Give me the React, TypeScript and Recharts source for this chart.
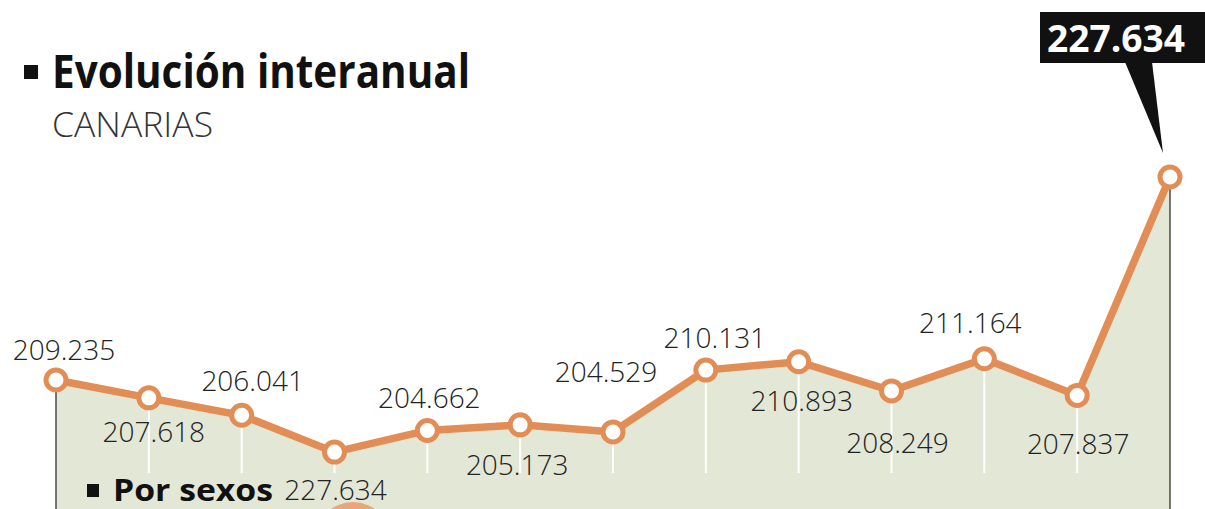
import React from 'react';
import { ComposedChart, Area, Line, XAxis, YAxis, ReferenceLine, LabelList } from 'recharts';

// ---- data ----
const periods = [0, 1, 2, 3, 4, 5, 6, 7, 8, 9, 10, 11, 12];
const values = [209235, 207618, 206041, 202700, 204662, 205173, 204529, 210131, 210893, 208249, 211164, 207837, 227634];
const valueLabels = ['209.235', '207.618', '206.041', '227.634', '204.662', '205.173', '204.529', '210.131', '210.893', '208.249', '211.164', '207.837', '227.634'];
const highlightLabel = '227.634';

// ---- layout / style config ----
const Y_DOMAIN: [number, number] = [197544, 243677];
const GRID_FLOOR = 200800;
const LABEL_OFFSETS: [number, number][] = [
  [8, -20], [5, 44], [11, -24], [1, 48], [2, -22], [-3, 50], [-7, -50],
  [9, -22], [3, 49], [6, 62], [-14, -26], [1, 59], [0, 0],
];
const ORANGE = '#e28d55';
const AREA_FILL = '#e3e7d6';
const TEXT = '#222';
const NUM_FONT = '"Open Sans", sans-serif';

const data = periods.map((p, i) => ({ p, v: values[i], label: valueLabels[i] }));

const renderLabel = (props: any) => {
  const { x, y, index, value } = props;
  if (index === periods.length - 1) {
    // callout box attached to the last point
    const bx = x - 130;
    const by = y - 165;
    return (
      <g>
        <rect x={bx} y={by} width={175} height={51} fill="#111" />
        <polygon points={`${x - 45},${by + 50} ${x - 18},${by + 50} ${x - 7},${y - 24}`} fill="#111" />
        <text x={x - 123} y={y - 125} fill="#fff" fontFamily={NUM_FONT} fontWeight={700} fontSize={38}
          textLength={138} lengthAdjust="spacingAndGlyphs">{highlightLabel}</text>
      </g>
    );
  }
  const [dx, dy] = LABEL_OFFSETS[index] || [0, 0];
  return (
    <text x={x + dx} y={y + dy} textAnchor="middle" fill={TEXT} fontFamily={NUM_FONT} fontWeight={300} fontSize={28}>
      {value}
    </text>
  );
};

export default function App() {
  return (
    <div style={{ position: 'absolute', left: 0, top: 0, width: 1205, height: 509, background: '#fff', overflow: 'hidden' }}>
      <ComposedChart width={1205} height={509} data={data} margin={{ top: 0, right: 35, bottom: 0, left: 56 }}>
        <XAxis dataKey="p" type="number" domain={[0, 12]} hide />
        <YAxis domain={Y_DOMAIN} hide />
        <Area dataKey="v" type="linear" fill={AREA_FILL} fillOpacity={1} stroke="none" isAnimationActive={false} />
        {data.map((d, i) => {
          const edge = i === 0 || i === data.length - 1;
          return (
            <ReferenceLine
              key={i}
              segment={[{ x: d.p, y: d.v }, { x: d.p, y: edge ? Y_DOMAIN[0] : GRID_FLOOR }]}
              stroke={edge ? '#4a4a4a' : '#ffffff'}
              strokeWidth={edge ? 1.5 : 2}
              ifOverflow="visible"
            />
          );
        })}
        <Line
          dataKey="v"
          type="linear"
          stroke={ORANGE}
          strokeWidth={7.5}
          dot={{ r: 10, fill: '#fff', stroke: ORANGE, strokeWidth: 5, clipDot: false }}
          activeDot={false}
          isAnimationActive={false}
        >
          <LabelList dataKey="label" content={renderLabel} />
        </Line>
      </ComposedChart>
      <svg width={1205} height={509} style={{ position: 'absolute', left: 0, top: 0, pointerEvents: 'none' }}>
        <rect x={24} y={65} width={14} height={14} fill="#111" />
        <text x={52} y={88} fill="#111" fontFamily={NUM_FONT} fontWeight={700} fontSize={46}
          textLength={418} lengthAdjust="spacingAndGlyphs">Evolución interanual</text>
        <text x={52} y={137} fill="#333" fontFamily={NUM_FONT} fontWeight={300} fontSize={34}
          textLength={161} lengthAdjust="spacingAndGlyphs">CANARIAS</text>
        <rect x={87} y={484} width={12} height={13} fill="#111" />
        <text x={113} y={501} fill="#111" fontFamily={NUM_FONT} fontWeight={700} fontSize={31}
          textLength={160} lengthAdjust="spacingAndGlyphs">Por sexos</text>
        <circle cx={353} cy={540} r={38} fill="#eaa57a" />
      </svg>
    </div>
  );
}
